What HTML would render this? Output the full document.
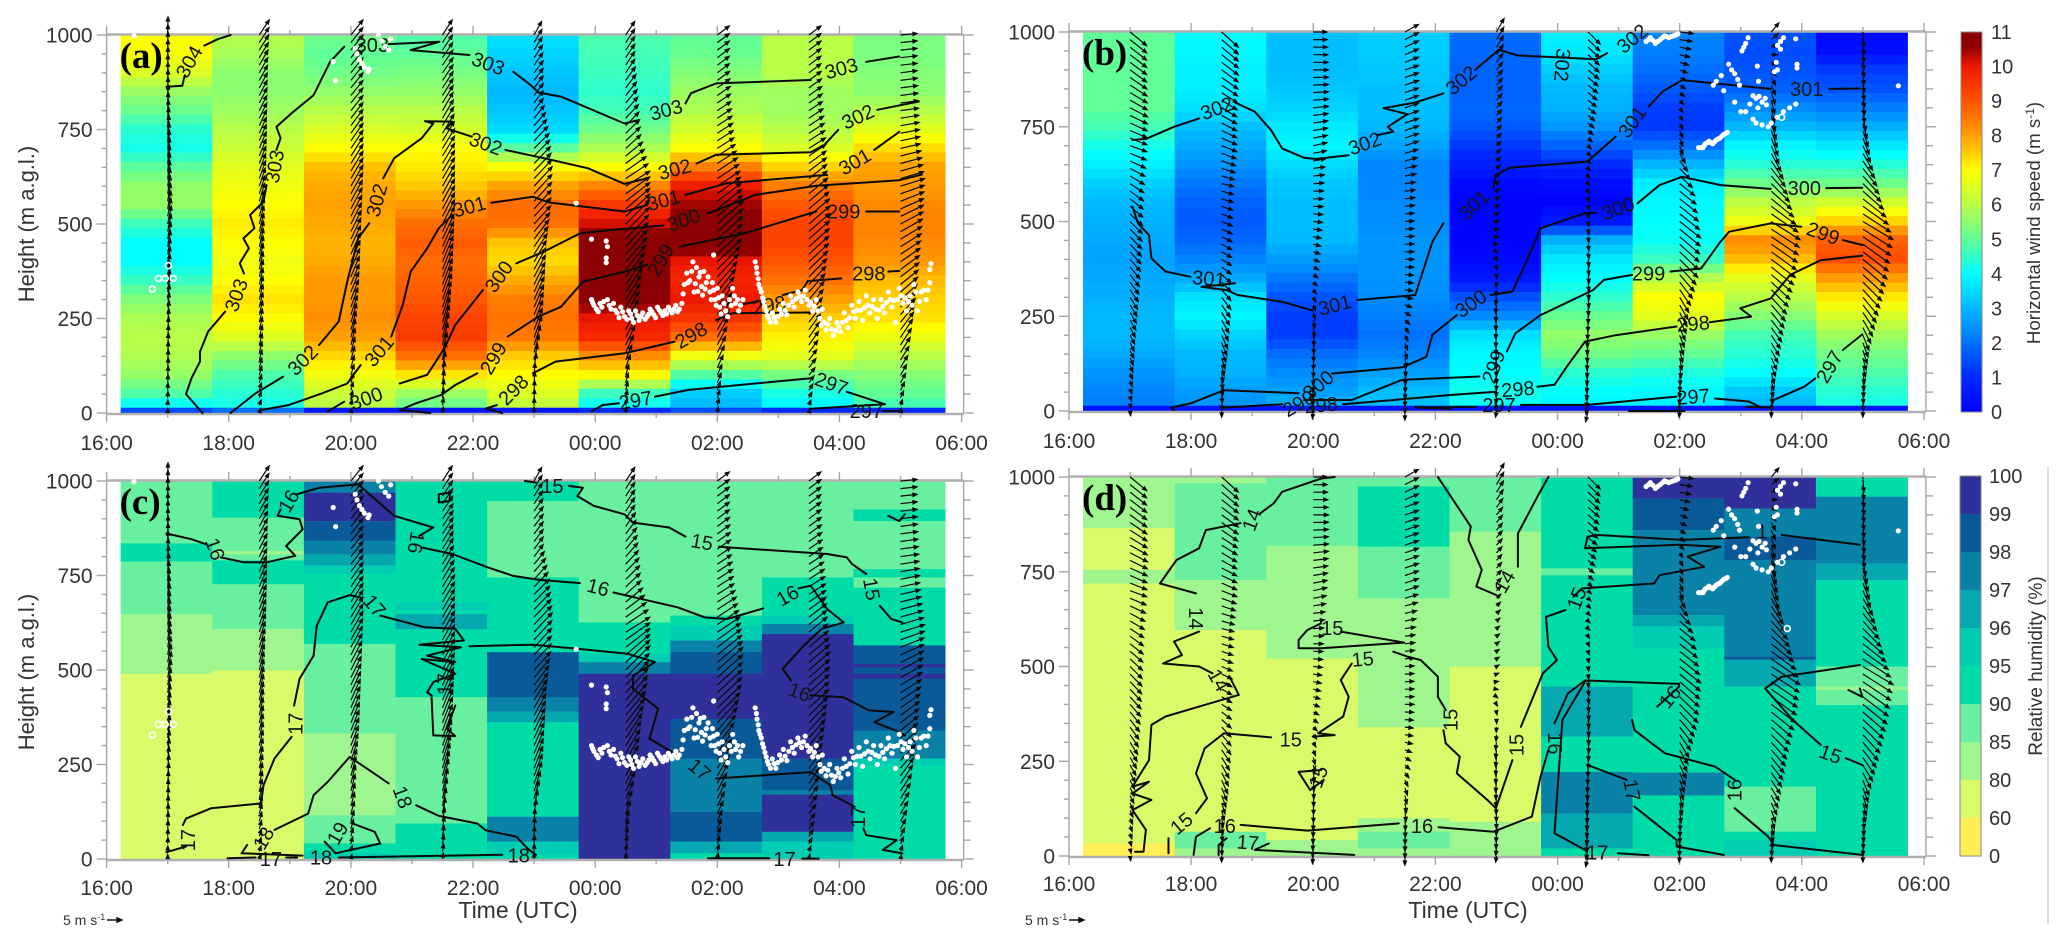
<!DOCTYPE html>
<html lang="en">
<head>
<meta charset="utf-8">
<title>Wind speed and relative humidity time-height sections</title>
<style>
html,body{margin:0;padding:0;background:#fff;width:2067px;height:947px;overflow:hidden}
svg{display:block;font-family:"Liberation Sans",sans-serif}
</style>
</head>
<body>
<svg id="figure" xmlns="http://www.w3.org/2000/svg" width="2067" height="947" viewBox="0 0 2067 947">
  <rect x="0" y="0" width="2067" height="947" fill="#fff"/>
  <g id="panel-a"></g>
  <g id="panel-b"></g>
  <g id="panel-c"></g>
  <g id="panel-d"></g>
  <g id="colorbar-speed"></g>
  <g id="colorbar-rh"></g>
  <text transform="translate(34 224) rotate(-90)" text-anchor="middle" font-size="22" fill="#333">Height (m a.g.l.)</text>
  <text transform="translate(34 672) rotate(-90)" text-anchor="middle" font-size="22" fill="#333">Height (m a.g.l.)</text>
  <text x="518" y="918" text-anchor="middle" font-size="23" fill="#333">Time (UTC)</text>
  <text x="1468" y="918" text-anchor="middle" font-size="23" fill="#333">Time (UTC)</text>
  <text x="63" y="925" font-size="14" fill="#333">5 m s<tspan dy="-5" font-size="9">-1</tspan></text>
  <text x="1025" y="925" font-size="14" fill="#333">5 m s<tspan dy="-5" font-size="9">-1</tspan></text>
  <path d="M107 920H122M122 920l-5-2.2v4.4z" stroke="#111" stroke-width="1.4" fill="#111"/>
  <path d="M1069 920H1084M1084 920l-5-2.2v4.4z" stroke="#111" stroke-width="1.4" fill="#111"/>
  <text transform="translate(2040 223) rotate(-90)" text-anchor="middle" font-size="18.7" fill="#333">Horizontal wind speed (m s<tspan dy="-6" font-size="12">-1</tspan><tspan dy="6">)</tspan></text>
  <text transform="translate(2042 666) rotate(-90)" text-anchor="middle" font-size="19" fill="#333">Relative humidity (%)</text>
  <line x1="2048" y1="467" x2="2048" y2="924" stroke="#cfcfcf" stroke-width="1.5"/>
</svg>
<script>
/* ---------- shared axis data ---------- */
const hourTicks = [0,1,2,3,4,5,6,7,8,9,10,11,12,13,14];
const hourLabels = ['16:00','18:00','20:00','22:00','00:00','02:00','04:00','06:00'];
const heightTicks = [0,250,500,750,1000];
const profileTimes = [1,2.5,4,5.5,7,8.5,10,11.5,13];
const cellStart = 0.23;
const cellWidth = 1.5;

/* ---------- wind speed (m/s) per profile, at these heights ---------- */
const speedLevels = [1000,950,900,850,800,750,700,650,600,550,500,450,400,350,300,250,200,150,100,50,15,0];
const speedA = [
[7,6.9,6.5,5.6,5.1,4.4,4.2,5,5.6,5.6,4.6,4,4,4.6,5.4,5.9,6,5.9,5.6,4.8,3.8,1.5],
[6,5.8,5.5,5.5,5.7,6,6.3,6.6,6.8,7,7.2,7,6.8,7,7.3,7,6.5,5.5,4.8,4.4,4.2,2],
[5.2,5,5.2,5.6,6,6.5,7,7.7,7.9,8,7.9,7.8,7.9,8.1,8.1,8.2,8,7.4,6.8,6.2,6,0.5],
[4.8,5,5.3,5.6,6,6.4,7,7.2,7.6,8.1,8.7,8.9,8.7,8.8,9,9.3,9.4,8.6,7.2,5.6,5,0.5],
[3.6,3.4,3.2,3,3.2,3.5,5,7,8,8.7,8.6,7.6,7.4,7.9,8.5,8.6,8.5,7.5,7,6.5,6,0.5],
[4.8,4.7,4.6,4.5,4.7,5.2,5.9,7,8.4,9.5,10.2,11,11,11,10.8,10,9.7,8.2,7,4.5,4,1],
[5,5.1,5.4,5.7,5.9,6.4,7,8.5,10,10.5,11,11,10,9.8,10,9.5,8.6,6.7,4.8,3.2,3,1.5],
[6,6,6,5.7,5.7,6,6.5,7.5,8.5,9,9.3,9.3,9,8.6,8,7.5,7.1,6.6,5.2,4.2,3.8,1],
[5.3,5.3,5.4,5.5,6,6.6,7.4,8,8.1,8.3,8.4,8.3,8.1,7.7,7.5,7.3,6.7,6,5.4,5,4.6,1]
];
const speedB = [
[5,5,5,5,5,4.7,4.2,3.8,3.3,3,2.9,2.8,2.7,2.8,2.9,3,3,2.8,2.5,2.3,2.2,0.5],
[4,3.9,3.8,3.8,3.6,3.1,2.8,2.5,2.1,1.8,1.7,1.9,2.3,2.8,3.6,3.9,3.4,3,2.9,2.6,2.5,0.5],
[3.1,3.1,3.1,3.2,3.4,3.7,3.9,3.5,3.2,3.1,3.1,3,2.6,2.1,1.6,1.3,1.3,2,2.4,2.7,2.9,0.5],
[3.3,3.3,3.2,3.1,3.1,3,2.7,2.3,2.3,2.4,2.4,2.5,2.5,2.5,2.4,2.2,2,2.3,2.7,3.1,3.1,0.5],
[1.9,1.9,1.8,1.8,1.9,1.7,1.2,0.8,0.2,0.1,0.1,0.1,0.2,0.6,1.6,2.4,3.6,3.9,4,4.2,4.1,0.5],
[3.8,3.7,3.3,3,2.9,2.5,1.8,1,0.3,0.1,0.6,3,3.7,4,4.5,5.1,5.6,5.2,4.4,4,3.9,0.5],
[2.3,2.2,2,1.7,1.3,1.2,2,3,3.8,3.9,4,4.1,4.6,6,7,6.6,5.6,5,4.3,3.9,3.8,0.5],
[1.6,1.5,1.6,1.8,2.4,3,3.9,4.4,5.2,6.1,6.8,8.3,7.7,6.6,6,5.4,4.7,4.4,4,3.2,3,0.5],
[0.2,0.4,1.3,1.6,2.2,2.9,3.7,4.4,5.2,6.4,7.5,8.9,9.1,8,7.2,6.4,5.7,5.2,4.8,4.4,4.2,0.5]
];

/* ---------- relative humidity bands per profile: [band top height, RH %] ---------- */
const humidityC = [
[[1000,87],[835,92],[787,87],[648,82],[490,70]],
[[1000,92],[903,87],[815,82],[806,87],[790,92],[727,87],[609,82],[499,70]],
[[1000,97.5],[969,99.5],[894,98.5],[842,97.5],[806,96.5],[776,95.5],[754,92],[569,87],[332,82],[116,87],[41,92],[15,95.5]],
[[1000,92],[679,95.5],[657,92],[648,96.5],[608,92],[428,87],[94,92]],
[[1000,92],[947,87],[745,92],[547,98.5],[428,97.5],[390,96.5],[362,92],[112,97.5],[46,95.5],[11,92]],
[[1000,87],[626,92],[543,95.5],[521,97.5],[490,99.5]],
[[1000,87],[644,92],[617,95.5],[578,97.5],[547,98.5],[490,99.5],[371,98.5],[266,97.5],[125,98.5],[46,96.5],[15,92]],
[[1000,87],[745,92],[644,95.5],[622,97.5],[595,99.5],[266,98.5],[182,97.5],[170,99.5],[72,96.5],[46,95.5]],
[[1000,87],[925,92],[894,87],[767,92],[745,87],[718,92],[565,98.5],[516,99.5],[507,98.5],[490,99.5],[477,98.5],[340,97.5],[266,95.5],[248,92]]
];
const humidityD = [
[[1000,82],[865,70],[755,82],[719,70],[33,50]],
[[1000,82],[983,87],[728,82],[596,70],[64,87],[20,82]],
[[1000,87],[818,82],[521,70],[42,82]],
[[1000,87],[975,92],[816,87],[680,82],[340,70],[100,82],[64,87],[20,82]],
[[1000,87],[856,82],[500,70],[90,82]],
[[1000,92],[759,87],[741,92],[447,96.5],[315,92],[222,97.5],[112,96.5],[20,92]],
[[1000,99.5],[944,98.5],[860,97.5],[636,96.5],[606,95.5],[547,92],[220,97.5],[160,92]],
[[1000,99.5],[917,97.5],[842,98.5],[781,97.5],[526,98.5],[518,96.5],[447,92],[183,87],[64,92],[42,95.5]],
[[1000,92],[948,97.5],[772,96.5],[728,92],[500,87],[447,82],[438,87],[398,92]]
];

/* ---------- wind components (m/s) per profile at 0,100,...,1000 m ---------- */
const barbLevels = [0,100,200,300,400,500,600,700,800,900,1000];
const windUEarly = [
[0,0.2,0.3,0.6,0.8,1.2,0.8,0.6,0.2,0.1,0.1],
[0.5,0.8,1,1.2,1.3,1.5,2,2.3,2.5,2.8,3.3],
[0.3,1,1.5,2.5,3,3.5,4,4,4,4,4],
[0.3,0.7,2,3,3.5,4,4,4,3.5,3.5,3.2],
[0,0.3,2.5,3.3,4,5.5,6,5,3,3,2.5],
[0.2,1,3.5,5,7,8,8,5,4,3,3],
[0.3,1.5,3.5,5.5,8,8.5,7.5,5.5,4.5,4,4],
[0.3,2,3.5,5,6.5,7,6,5.5,4.5,4,4],
[0.3,2,4,5.5,6.5,7.5,8,6.5,6,5.5,5.5]
];
const windVEarly = [
[1.5,3,4,5,5,6,6,6,6,6,6],
[1.5,3,4,5,6,6,6,5.5,5,5,5],
[1.5,3.5,6,6.5,7,7,7,6,5,5,5],
[2,4.5,8,8.5,8.5,8,7,6.5,6,5,5],
[2,4,7,7.5,7,6,6.5,5,4,4,4.5],
[2,3.5,7,8,8,8,5,4.5,4.5,4.5,4.5],
[2,3.5,6.5,7.5,7.5,7.5,5,3.5,3,3,3],
[1.5,2.5,5,6,6,6,5,3.5,3,3,3],
[1.5,3.5,6,5,4.5,4,2.5,1.5,0.8,0.7,0.5]
];
const windULate = [
[0.2,0.8,1.5,2.5,3.5,4,4.5,5.5,5.8,5.5,5.5],
[0,0.5,2,3,3.2,3.5,4,5,5,5.5,5.5],
[-0.3,0,0.3,0.8,2,3,3.5,4.5,5,5,4.5],
[0,0.2,1,2.5,3,3,3.5,4.5,4.5,4.5,4.5],
[-0.3,0,-0.3,-0.3,0.3,0.8,1,1.5,1.8,2,2.5],
[-0.8,-0.5,-0.3,0.3,0.3,0.2,0.5,1,2.5,3.5,4],
[-0.2,0.2,1.5,3,6,7,5,1,1,2.5,4.5],
[0,1,3,5,8,9.5,6,2.5,1,1.5,2.5],
[0,0.5,2,5,8,10,6,2.5,0.5,0.3,0.3]
];
const windVLate = [
[-1.5,-2,-3,-4,-4,-4,-3,-2,-3,-4,-4.5],
[-2,-3,-4.5,-4,-2,-1.5,-1,-2,-3,-4,-5],
[-2.5,-4,-3.5,-1.5,-0.8,-0.3,0.2,1,0.5,0,0],
[-3,-4,-2,-0.5,0,0.2,0.5,1.5,1.5,1.5,2.5],
[-2,-3.5,-4,-2.5,-0.5,0.5,0.8,1.5,2,2.5,4.5],
[-3.5,-4,-4,-3.5,-2.5,-1.5,-0.5,-1,-2,-3,-4],
[-2,-4,-4,-5,-6,-5.5,-4,-3,-1.5,-1,-0.5],
[-2,-3.5,-4.5,-5.5,-6,-6,-6,-6,-5,-2,3],
[-2,-3.5,-5,-6,-6.5,-6,-6,-5.5,-5,-5,-5]
];

/* ---------- contour polylines: [hours after 16:00, height m] ---------- */
const contourLinesA = [
[[0.98,863],[1.24,866],[1.28,894]],
[[1.6,972],[1.82,989],[2.03,1000]],
[[1.57,0],[1.3,50],[1.39,92],[1.53,136],[1.53,162],[1.66,215],[1.94,268]],
[[2.25,369],[2.18,396],[2.33,436],[2.24,462],[2.42,489],[2.35,524],[2.57,559],[2.62,603]],
[[2.78,696],[2.85,727],[2.78,757],[3.03,793],[3.39,841],[3.66,929],[3.89,969]],
[[4.62,976],[5.45,982],[4.98,960],[5.94,947]],
[[6.66,903],[6.94,868],[7.07,848],[7.44,837],[8.48,766],[8.71,775]],
[[9.48,819],[9.57,846],[9.98,872],[11.53,881]],
[[12.44,929],[12.98,943]],
[[2.03,0],[2.44,52],[2.89,96]],
[[3.48,180],[3.8,242],[3.94,347],[4.12,462],[4.3,502]],
[[4.53,621],[4.71,674],[5.16,727],[5.35,766],[5.21,772],[5.66,771],[5.57,753],[5.98,731]],
[[6.53,696],[7.16,674],[7.89,647],[8.48,606],[8.85,621]],
[[9.66,660],[9.98,683],[11.53,690],[11.75,709],[11.98,749]],
[[12.62,802],[13.3,824]],
[[2.53,8],[2.98,21],[3.53,52],[3.94,78],[4.16,127]],
[[4.66,202],[4.85,286],[4.98,374],[5.25,436],[5.44,489],[5.66,524]],
[[6.3,556],[6.98,572],[7.25,557],[8.48,533],[8.85,550]],
[[9.48,577],[10.16,608],[11.8,630]],
[[12.57,696],[12.98,744]],
[[3.62,4],[3.89,30]],
[[4.8,78],[5.25,101],[5.53,171],[5.71,233],[6.16,325]],
[[6.71,396],[7.16,427],[7.75,475],[8.25,484],[9.12,496]],
[[9.85,528],[10.62,577],[11.62,601],[12.98,616],[13.35,631]],
[[5.3,0],[4.8,8],[5.07,26],[5.48,48],[5.71,74],[6.07,105]],
[[6.57,202],[7.07,255],[7.44,281],[7.8,347],[8.48,374],[8.85,392]],
[[9.39,440],[10.44,475],[11.62,533]],
[[12.44,533],[12.98,533]],
[[6.48,0],[6.21,12],[6.39,21]],
[[6.98,105],[7.35,136],[8.48,158],[9.3,189]],
[[9.98,246],[10.25,264],[11.53,266]],
[[10.35,286],[10.66,295]],
[[11.07,312],[11.39,325],[11.48,349],[12.03,356]],
[[12.8,374],[12.98,376]],
[[7.94,4],[8.12,21],[8.39,26]],
[[8.98,43],[9.53,61],[11.53,92]],
[[12.12,56],[12.75,23],[11.53,11]],
[[12.71,5],[13.03,5]]
];
const contourLabelsA = [
['304',1.35,929,-60],['303',2.12,312,-70],['303',2.75,652,-80],['303',4.35,974,0],['303',6.25,925,20],
['303',9.16,802,-15],['303',12.03,912,-15],['302',3.21,140,-45],['302',4.42,563,-75],['302',6.21,713,20],
['302',9.3,645,-15],['302',12.3,784,-25],['301',4.46,164,-50],['301',5.94,546,-15],['301',9.12,563,-15],
['301',12.25,665,-30],['300',4.25,39,-20],['300',6.42,361,-55],['300',9.45,511,-20],['299',6.33,145,-60],
['299',9.07,405,-60],['299',12.07,533,0],['298',6.66,61,-45],['298',9.57,206,-30],['298',10.85,286,-10],
['298',12.48,369,0],['297',8.66,34,-10],['297',11.87,78,20],['297',12.44,5,0]
];
const contourLinesB = [
[[1.04,715],[1.26,718],[1.72,750],[2.13,772]],
[[2.72,814],[3.04,790],[3.31,741],[3.49,693],[3.85,668],[4.04,665],[4.58,675]],
[[5.05,728],[5.31,737],[5.22,750],[5.54,783],[5.15,799],[5.67,814],[6.13,838]],
[[6.65,900],[7.04,953],[7.35,938],[8.63,928],[8.81,944]],
[[1.04,539],[1.13,495],[1.31,464],[1.35,403],[1.58,368],[1.99,354]],
[[2.17,328],[2.72,337]],
[[2.17,328],[2.58,319],[2.76,306],[3.49,288],[3.99,265]],
[[4.72,293],[5.67,306],[5.81,376],[5.95,447],[6.13,495]],
[[6.95,588],[6.99,623],[7.22,642],[8.49,658],[8.95,724]],
[[9.49,803],[9.72,843],[10.04,873],[11.49,850]],
[[12.45,850],[12.95,851]],
[[1.72,3],[1.67,9],[1.99,20],[2.54,55],[3.76,47]],
[[4.31,99],[5.45,115],[5.85,143],[5.95,201],[6.35,253]],
[[6.9,306],[7.26,315],[7.49,394],[7.72,482],[8.45,522],[8.63,523]],
[[9.31,548],[9.67,596],[10.04,618],[10.67,596],[11.49,586]],
[[12.4,588],[12.99,589]],
[[2.54,9],[3.49,18]],
[[3.85,29],[4.63,29],[5.45,82],[6.72,91]],
[[7.17,157],[7.31,205],[7.72,253],[8.58,319],[8.76,346],[9.22,359]],
[[9.85,368],[10.35,376],[10.67,447],[10.81,473],[11.49,495],[11.99,486]],
[[12.67,451],[12.99,438]],
[[4.49,18],[5.31,29],[6.22,42],[6.99,51]],
[[7.67,64],[7.95,69],[8.17,121],[8.45,183],[8.95,200],[9.95,223]],
[[10.49,234],[11.17,249],[10.99,271],[11.49,297],[11.81,359],[12.31,398],[12.99,410]],
[[5.67,11],[6.26,6],[5.67,9],[6.67,11]],
[[7.4,16],[8.49,16],[9.95,38]],
[[10.58,33],[11.13,25],[11.31,11],[11.08,11],[11.49,9],[11.54,29],[12.04,64],[12.22,86]],
[[12.67,161],[12.99,202]],
[[9.17,0],[10.08,0]]
];
const contourLabelsB = [
['302',2.42,799,-20],['302',4.84,706,-20],['302',6.42,873,-40],['302',9.22,983,-40],['302',8.08,913,95],
['301',2.29,350,5],['301',4.35,280,-15],['301',6.63,544,-45],['301',9.22,763,-55],['301',12.08,850,0],
['300',4.08,69,-40],['300',6.58,284,-35],['300',8.99,535,-20],['300',12.04,588,0],['299',3.76,20,-30],
['299',6.95,117,-70],['299',9.49,363,0],['299',12.35,469,20],['298',4.13,16,-5],['298',7.35,58,-5],
['298',10.22,231,-5],['297',7.04,16,0],['297',10.22,38,-5],['297',12.45,117,-60]
];
const contourLinesC = [
[[0.98,861],[1.39,846],[1.62,833]],
[[1.87,798],[2.25,785],[2.62,785],[3.09,802],[2.94,828],[3.21,872],[3.16,899],[2.8,908],[2.85,925]],
[[3.12,965],[3.48,982],[4.12,991],[4.71,908],[5.35,877],[5.12,855]],
[[5.16,824],[5.66,807],[6.25,771],[6.66,749],[7.07,739],[7.75,730]],
[[8.3,705],[9.35,666],[9.8,639],[10.16,635],[10.75,663]],
[[11.33,716],[11.53,723],[11.8,661],[12.07,626],[11.71,609],[11.39,560],[11.07,503],[11.21,472]],
[[11.53,433],[12.07,428],[12.48,393],[12.89,389],[12.57,362],[12.98,336],[13.07,327]],
[[6.85,1000],[7.03,996]],
[[7.57,987],[7.8,982],[7.71,960],[7.98,934],[8.48,912],[8.62,890],[9.21,877],[9.48,853]],
[[10.03,826],[11.8,807],[12.12,798],[12.21,780],[12.44,754]],
[[12.66,670],[12.85,635],[13.03,626]],
[[12.8,908],[12.98,894],[13.07,912]],
[[0.98,18],[1.3,33]],
[[1.25,90],[1.3,107],[1.71,134],[2.53,147],[2.57,195],[2.75,266],[3.03,323]],
[[3.07,406],[3.16,477],[3.39,538],[3.44,617],[3.62,679],[3.98,698],[4.16,692]],
[[4.48,644],[5.21,613],[5.71,609],[5.85,578],[5.12,567],[5.8,560],[5.25,538],[5.71,521],[5.16,529],[5.71,490],[5.35,468],[5.25,441],[5.32,433],[5.35,327],[5.71,325],[5.57,345],[5.71,406]],
[[5.94,563],[6.98,567],[7.71,556],[8.53,543],[8.98,521],[8.62,485],[8.62,450],[9.03,398],[8.89,318],[9.3,279]],
[[9.98,213],[11.53,230],[11.85,195],[11.89,169],[12.25,138]],
[[12.39,81],[12.44,63],[12.94,50],[12.71,24],[13.03,15]],
[[2.75,77],[3.3,120],[3.39,169],[3.62,204],[3.98,270],[4.62,200]],
[[5.07,142],[5.44,114],[6.07,94],[6.21,76],[6.71,59],[6.89,28],[7.03,11]],
[[1.98,2],[2.44,4]],
[[2.94,4],[3.12,4]],
[[2.3,37],[2.21,15],[3.21,9]],
[[3.8,4],[6.48,11]],
[[9.85,2],[10.85,2]],
[[11.39,1],[11.66,1]],
[[3.57,46],[3.75,15],[4.48,41],[4.39,72],[4.03,94]],
[[5.44,965],[5.62,969],[5.62,947],[5.44,943],[5.44,965]]
];
const contourLabelsC = [
['16',1.78,820,70],['16',2.98,947,-60],['16',5.07,837,100],['16',8.05,719,15],['16',11.15,697,-30],['16',11.35,442,20],
['15',7.3,987,0],['15',9.75,839,10],['15',12.53,714,80],['17',1.33,50,-90],['17',3.09,358,-90],['17',4.39,670,50],
['17',5.53,463,-90],['17',9.71,237,40],['17',12.3,112,-90],['18',2.57,55,-60],['18',4.85,164,70],['17',2.69,0,0],
['18',3.51,4,0],['18',6.75,9,0],['17',11.1,0,0],['19',3.78,68,-60]
];
const contourLinesD = [
[[4.35,1000],[4.13,996],[3.49,961],[3.35,930],[3.13,904]],
[[2.81,878],[2.24,860],[2.13,812],[1.76,781],[1.49,719],[1.67,711],[2.08,693]],
[[2.13,592],[1.72,566],[1.85,530],[1.54,508],[2.13,500],[2.35,482]],
[[2.63,473],[2.78,425],[2.04,390],[1.58,368],[1.35,346],[1.31,253],[1.04,183],[1.31,196],[1.04,165],[1.35,148],[1.04,121],[1.26,69],[1.22,11],[1.08,11]],
[[6.04,1000],[6.58,869],[6.54,834],[6.76,755],[6.67,711],[6.99,689]],
[[7.35,763],[7.35,851],[7.67,948],[7.85,1000]],
[[12.95,821],[11.67,847]],
[[11.13,841],[10.04,834],[8.67,847],[8.49,843],[8.45,812],[9.99,821],[10.67,816],[10.13,790],[10.4,763],[9.67,741],[9.58,719],[8.4,706],[8.26,684]],
[[8.13,649],[7.81,631],[7.85,552],[7.99,517],[7.76,482],[7.4,341]],
[[7.26,253],[6.99,126],[6.85,148],[6.35,218],[6.4,262],[6.17,297],[6.13,332]],
[[6.17,385],[6.04,420],[6.04,473],[5.76,517],[5.54,526],[5.31,539]],
[[4.63,508],[4.45,464],[4.58,420],[4.49,368],[4.08,324],[4.35,319],[3.99,315]],
[[3.31,313],[2.54,324],[2.22,284],[2.08,218],[2.26,152],[2.08,113]],
[[1.63,47],[1.63,7]],
[[4.45,592],[5.49,563],[4.13,548],[3.76,548],[3.76,570],[3.9,596],[4.13,614]],
[[4.13,227],[3.76,222],[3.95,174],[4.17,201]],
[[2.04,3],[2.08,51],[2.31,73]],
[[2.81,82],[3.9,67],[5.4,86]],
[[6.05,76],[6.95,64],[7.58,104],[7.72,209],[7.85,280]],
[[7.95,350],[8.17,429],[8.45,463],[9.99,454],[9.99,447],[9.63,394]],
[[9.22,359],[9.26,332],[9.76,271],[10.58,236],[10.9,201]],
[[10.9,126],[11.45,51],[11.54,29],[12.99,3]],
[[12.95,504],[11.67,473],[11.4,442],[11.85,359],[12.31,293]],
[[12.72,258],[12.99,240]],
[[3.27,33],[3.04,16],[4.67,3]],
[[2.45,3],[2.45,29],[2.58,47]],
[[8.45,460],[8.08,359],[7.95,60],[8.45,16]],
[[8.99,7],[9.49,2]],
[[8.49,240],[9.13,201]],
[[9.26,130],[9.95,42],[9.95,25],[10.72,3]],
[[12.76,438],[12.99,420],[12.95,442]]
];
const contourLabelsD = [
['14',2.99,887,-70],['14',2.08,627,90],['14',2.45,464,60],['14',7.13,724,-60],['15',8.31,680,-70],['15',7.33,293,-90],
['15',6.25,359,-90],['15',4.81,520,-5],['15',3.63,308,0],['15',1.84,86,-40],['15',4.31,601,0],['15',4.08,209,-70],
['15',12.47,269,20],['16',2.55,79,0],['16',5.78,79,0],['16',7.96,297,90],['16',9.84,420,-50],['16',10.9,174,-90],
['17',2.93,36,5],['17',8.65,9,0],['17',9.22,174,80],['1',11.35,856,0]
];

/* ---------- ceilometer points ---------- */
const dotsEarly = [
[7.94,300],[7.98,285],[8.02,275],[8.08,290],[8.14,295],[8.2,300],[8.26,275],[8.3,290],[8.36,265],[8.42,280],[8.48,255],[8.55,270],[8.6,250],[8.66,270],[8.72,245],[8.78,265],[8.85,255],[8.9,275],[8.96,260],[9.02,280],[9.08,265],[9.14,270],[9.2,280],[9.26,265],[9.32,285],[9.38,275],
[9.42,290],[9.46,340],[9.5,370],[9.55,350],[9.6,400],[9.62,320],[9.66,385],[9.7,360],[9.74,335],[9.78,375],[9.82,345],[9.88,320],[9.92,345],[9.96,300],[10,330],[10.04,280],[10.08,310],[10.14,270],[10.2,300],[10.25,330],[10.3,290],[10.35,270],[10.42,300],
[10.62,400],[10.65,370],[10.68,340],[10.72,320],[10.76,295],[10.8,270],[10.84,250],[10.9,265],[10.96,240],[11.02,275],[11.08,290],[11.14,260],[11.2,310],[11.26,280],[11.32,320],[11.38,295],[11.44,325],[11.5,285],[11.56,270],[11.62,300],[11.68,250],[11.72,275],[11.78,220],[11.84,250],[11.9,205],[11.96,240],[12.02,215],[12.08,265],[12.14,225],[12.2,285],[12.26,250],[12.32,295],[12.38,245],[12.44,310],[12.5,265],[12.56,300],[12.62,250],[12.68,300],[12.74,265],[12.8,320],[12.86,280],[12.92,240],[12.98,330],[13.04,290],[13.1,270],[13.16,310],[13.22,340],[13.28,270],[13.34,320],[13.42,300],[13.48,345],[13.5,395],[13.48,380],
[7.96,292],[8.05,268],[8.11,280],[8.23,285],[8.33,272],[8.39,252],[8.45,268],[8.52,248],[8.58,262],[8.63,240],[8.69,258],[8.75,255],[8.82,248],[8.88,262],[8.93,268],[8.99,252],[9.05,272],[9.11,258],[9.17,262],[9.23,272],[9.29,275],[9.35,268],
[9.44,315],[9.52,345],[9.58,375],[9.64,342],[9.68,322],[9.72,372],[9.76,312],[9.8,328],[9.85,360],[9.9,300],[9.94,325],[9.98,285],[10.02,305],[10.06,262],[10.11,290],[10.17,255],[10.23,285],[10.28,310],[10.33,300],[10.38,285],
[10.64,385],[10.67,355],[10.7,330],[10.74,305],[10.78,282],[10.82,258],[10.87,240],[10.93,252],[10.99,255],[11.05,262],[11.11,272],[11.17,285],[11.23,295],[11.29,302],[11.35,308],[11.41,310],[11.47,300],[11.53,292],[11.59,282],[11.65,270],[11.7,232],[11.75,240],[11.81,235],[11.87,222],[11.93,218],[11.99,228],[12.05,240],[12.11,245],[12.17,252],[12.23,268],[12.29,272],[12.35,272],[12.41,278],[12.47,285],[12.53,282],[12.59,275],[12.65,272],[12.71,282],[12.77,292],[12.83,300],[12.89,298],[12.95,300],[13.01,310],[13.07,305],[13.13,295],[13.19,285],[13.25,320],[13.31,295],[13.38,325],[13.45,325],
[7.94,460],[8.18,455],[8.2,440],[8.18,410],[8.18,398],[7.69,555],[9.94,418],[0.45,998],[3.75,879],[3.71,930],
[4.07,965],[4.1,950],[4.14,935],[4.18,925],[4.22,915],[4.28,903],[4.3,910],[4.45,1000],[4.5,985],[4.56,970],[4.62,960],[4.65,990]
];
const ringsEarly = [[0.75,328],[0.85,356],[0.96,356],[1.09,356],[1.01,390]];
const dotsLate = [
[9.45,975],[9.49,980],[9.52,985],[9.56,978],[9.6,970],[9.64,975],[9.68,980],[9.72,985],[9.75,990],[9.78,988],[9.82,985],[9.86,988],[9.9,990],[9.94,992],[9.97,995],
[10.31,695],[10.35,695],[10.38,695],[10.4,700],[10.42,705],[10.45,708],[10.48,712],[10.51,708],[10.54,705],[10.57,710],[10.6,715],[10.63,718],[10.66,720],[10.69,725],[10.72,730],[10.75,732],[10.78,735],
[10.55,860],[10.6,870],[10.68,885],[10.8,915],[10.85,900],[10.9,890],[10.95,875],[10.98,860],[10.72,845],
[10.9,815],[11.2,832],[11.25,825],[11.3,830],[11.35,815],[11.4,825],[11,790],[11.08,790],[11.15,810],[11.28,800],[11.42,808],[11.2,770],[11.25,760],[11.35,755],[11.45,750],[11.5,760],[11.6,775],[11.7,790],[11.8,800],[11.9,810],
[11.05,960],[11.08,970],[11.12,985],[11.02,950],[11.6,965],[11.65,975],[11.7,985],[11.65,955],[11.9,982],[11.92,915],[11.92,905],[11.27,910],[11.58,920],[11.6,900],[11.55,895],[11.29,870],[13.58,858]
];
const ringsLate = [[11.67,775]];
const ringsPanelD = [[11.76,600]];

/* ---------- colour scales ---------- */
const speedTickLabels = [0,1,2,3,4,5,6,7,8,9,10,11];
const speedStops = ['#0000ff','#0028ff','#0070ff','#00b8ff','#00ffff','#60ff98','#b8ff48','#ffff00','#ffa000','#ff5500','#f01800','#8b0000'];
const rhBounds = [0,60,80,85,90,95,96,97,98,99,100];
const rhColors = ['#ffee55','#d9fb6a','#a0f68e','#68f0a0','#00dca8','#00cdb2','#06a8b0','#0a82a8','#0a5a9a','#30309a'];

/* ---------- drawing ---------- */
const NS = 'http://www.w3.org/2000/svg';
const PX_PER_HOUR = 61.07;
const ARROW_SCALE = 3;
const AXIS_GRAY = '#a6a6a6';

function make(tag, parent) {
  const node = document.createElementNS(NS, tag);
  parent.appendChild(node);
  return node;
}
function hexToRgb(c) {
  return [parseInt(c.slice(1,3),16), parseInt(c.slice(3,5),16), parseInt(c.slice(5,7),16)];
}
function speedColor(v) {
  const s = Math.max(0, Math.min(11, v));
  const i = Math.min(10, Math.floor(s));
  const f = i === 10 ? Math.min(1, (s - 10) / 0.6) : s - i;
  const a = hexToRgb(speedStops[i]);
  const b = hexToRgb(speedStops[i + 1]);
  return 'rgb(' + a.map((x, k) => Math.round(x + (b[k] - x) * f)).join(',') + ')';
}
function rhColor(v) {
  for (let i = 0; i < rhColors.length; i++) {
    if (v >= rhBounds[i] && v < rhBounds[i + 1]) return rhColors[i];
  }
  return rhColors[rhColors.length - 1];
}
function valueAtHeight(values, heights, h) {
  for (let i = 0; i < heights.length - 1; i++) {
    const hi = heights[i], lo = heights[i + 1];
    if (h <= Math.max(hi, lo) && h >= Math.min(hi, lo)) {
      return values[i] + (values[i + 1] - values[i]) * (h - hi) / (lo - hi);
    }
  }
  return values[values.length - 1];
}
function drawSpeedField(g, p, field) {
  field.forEach((col, c) => {
    const x0 = p.x(cellStart + c * cellWidth);
    const x1 = p.x(cellStart + (c + 1) * cellWidth);
    const tops = [15];
    for (let h = 40; h < 1000; h += 25) tops.push(h);
    tops.push(1000);
    tops.forEach((top, i) => {
      const bottom = i === 0 ? 0 : tops[i - 1];
      const v = i === 0 ? col[col.length - 1] : valueAtHeight(col, speedLevels, (top + bottom) / 2);
      const r = make('rect', g);
      
      
      r.setAttribute('x', x0.toFixed(1));
      r.setAttribute('width', (x1 - x0 + 0.4).toFixed(1));
      r.setAttribute('y', p.y(top).toFixed(1));
      r.setAttribute('height', (p.y(bottom) - p.y(top) + 0.4).toFixed(1));
      r.setAttribute('fill', speedColor(v));
    });
  });
}
function drawHumidityField(g, p, field) {
  field.forEach((col, c) => {
    const x0 = p.x(cellStart + c * cellWidth);
    const x1 = p.x(cellStart + (c + 1) * cellWidth);
    col.forEach((band, i) => {
      const top = band[0];
      const bottom = i + 1 < col.length ? col[i + 1][0] : 0;
      const r = make('rect', g);
      
      
      r.setAttribute('x', x0.toFixed(1));
      r.setAttribute('width', (x1 - x0 + 0.4).toFixed(1));
      r.setAttribute('y', p.y(top).toFixed(1));
      r.setAttribute('height', (p.y(bottom) - p.y(top) + 0.3).toFixed(1));
      r.setAttribute('fill', rhColor(band[1]));
    });
  });
}
function drawContours(g, p, lines, labels) {
  lines.forEach(line => {
    const path = make('polyline', g);
    
    
    path.setAttribute('points', line.map(pt => p.x(pt[0]).toFixed(1) + ',' + p.y(pt[1]).toFixed(1)).join(' '));
    path.setAttribute('fill', 'none');
    path.setAttribute('stroke', '#0a0a0a');
    path.setAttribute('stroke-width', '2');
    path.setAttribute('stroke-linejoin', 'round');
    path.setAttribute('stroke-linecap', 'round');
  });
  labels.forEach(item => {
    const t = make('text', g);
    
    
    const lx = p.x(item[1]), ly = p.y(item[2]);
    t.setAttribute('transform', 'translate(' + lx.toFixed(1) + ' ' + ly.toFixed(1) + ') rotate(' + item[3] + ')');
    t.setAttribute('text-anchor', 'middle');
    t.setAttribute('y', '7');
    t.setAttribute('font-size', '20');
    t.setAttribute('fill', '#151515');
    t.textContent = item[0];
  });
}
function drawBarbs(g, p, uField, vField) {
  profileTimes.forEach((time, c) => {
    const tail = p.x(time);
    for (let h = 0; h <= 1000; h += 20) {
      const u = valueAtHeight(uField[c], barbLevels, h);
      const v = valueAtHeight(vField[c], barbLevels, h);
      const dx = u * ARROW_SCALE, dy = -v * ARROW_SCALE;
      const len = Math.hypot(dx, dy) || 1;
      const ux = dx / len, uy = dy / len;
      const y0 = p.y(h);
      const tipX = tail + dx, tipY = y0 + dy;
      const baseX = tipX - ux * 4, baseY = tipY - uy * 4;
      const a = make('path', g);
      
      
      a.setAttribute('d',
        'M' + tail.toFixed(1) + ' ' + y0.toFixed(1) + 'L' + tipX.toFixed(1) + ' ' + tipY.toFixed(1) +
        'M' + tipX.toFixed(1) + ' ' + tipY.toFixed(1) +
        'L' + (baseX - uy * 1.6).toFixed(1) + ' ' + (baseY + ux * 1.6).toFixed(1) +
        'L' + (baseX + uy * 1.6).toFixed(1) + ' ' + (baseY - ux * 1.6).toFixed(1) + 'Z');
      a.setAttribute('stroke', '#0a0a0a');
      a.setAttribute('stroke-width', '1.2');
      a.setAttribute('fill', '#0a0a0a');
    }
  });
}
function drawDots(g, p, dots, rings) {
  dots.forEach(pt => {
    const d = make('circle', g);
    
    
    d.setAttribute('cx', p.x(pt[0]).toFixed(1));
    d.setAttribute('cy', p.y(pt[1]).toFixed(1));
    d.setAttribute('r', '2.6');
    d.setAttribute('fill', '#fff');
  });
  rings.forEach(pt => {
    const d = make('circle', g);
    
    
    d.setAttribute('cx', p.x(pt[0]).toFixed(1));
    d.setAttribute('cy', p.y(pt[1]).toFixed(1));
    d.setAttribute('r', '3');
    d.setAttribute('fill', 'none');
    d.setAttribute('stroke', '#fff');
    d.setAttribute('stroke-width', '1.6');
  });
}
function tickLine(g, x1, y1, x2, y2, name) {
  const l = make('line', g);
  
  
  l.setAttribute('x1', x1.toFixed(1));
  l.setAttribute('y1', y1.toFixed(1));
  l.setAttribute('x2', x2.toFixed(1));
  l.setAttribute('y2', y2.toFixed(1));
  l.setAttribute('stroke', AXIS_GRAY);
  l.setAttribute('stroke-width', '1.4');
}
function drawAxes(g, p) {
  const left = p.x(0), right = p.x(14), top = p.y(1000), bottom = p.y(0);
  tickLine(g, left, top, left, bottom, 'left-axis-line');
  tickLine(g, right + 2, top, right + 2, bottom, 'right-axis-line');
  [[top - 0.5, 'top-axis-band'], [bottom + 1, 'bottom-axis-band']].forEach(item => {
    const heavy = make('line', g);
    
    
    heavy.setAttribute('x1', left.toFixed(1));
    heavy.setAttribute('x2', (right + 2).toFixed(1));
    heavy.setAttribute('y1', item[0].toFixed(1));
    heavy.setAttribute('y2', item[0].toFixed(1));
    heavy.setAttribute('stroke', '#b0b0b0');
    heavy.setAttribute('stroke-width', '2.4');
  });
  hourTicks.forEach(h => {
    const len = h % 2 === 0 ? 9 : 5;
    tickLine(g, p.x(h), top, p.x(h), top - len, 'top-x-tick');
    tickLine(g, p.x(h), bottom, p.x(h), bottom + len, 'bottom-x-tick');
  });
  for (let h = 0; h <= 1000; h += 50) {
    const major = h % 250 === 0;
    tickLine(g, left, p.y(h), left - (major ? 10 : 5), p.y(h), 'left-y-tick');
    tickLine(g, right + 2, p.y(h), right + (major ? 12 : 9), p.y(h), 'right-y-tick');
  }
  hourLabels.forEach((label, i) => {
    const t = make('text', g);
    
    
    t.setAttribute('x', p.x(i * 2).toFixed(1));
    t.setAttribute('y', p.labelY);
    t.setAttribute('text-anchor', 'middle');
    t.setAttribute('font-size', '21');
    t.setAttribute('fill', '#333');
    t.textContent = label;
  });
  heightTicks.forEach(h => {
    const t = make('text', g);
    
    
    t.setAttribute('x', (left - 14).toFixed(1));
    t.setAttribute('y', (p.y(h) + 7.5).toFixed(1));
    t.setAttribute('text-anchor', 'end');
    t.setAttribute('font-size', '21');
    t.setAttribute('fill', '#333');
    t.textContent = h;
  });
}
function panelScale(x0, yTop, yBottom, labelY) {
  return {
    x: t => x0 + t * PX_PER_HOUR,
    y: h => yBottom - (yBottom - yTop) * h / 1000,
    labelY: labelY
  };
}
function drawPanel(id, p, letter, fieldFn, lines, labels, u, v, dots, rings) {
  const g = document.getElementById(id);
  fieldFn(g, p);
  drawAxes(g, p);
  drawContours(g, p, lines, labels);
  drawBarbs(g, p, u, v);
  drawDots(g, p, dots, rings);
  const t = make('text', g);
  
  
  t.setAttribute('x', (p.x(0) + 13).toFixed(1));
  t.setAttribute('y', (p.y(1000) + 33).toFixed(1));
  t.setAttribute('font-family', '"Liberation Serif",serif');
  t.setAttribute('font-weight', 'bold');
  t.setAttribute('font-size', '37');
  t.setAttribute('fill', '#000');
  t.textContent = letter;
}

drawPanel('panel-a', panelScale(106.6, 35, 413, 450), '(a)', (g, p) => drawSpeedField(g, p, speedA),
  contourLinesA, contourLabelsA, windUEarly, windVEarly, dotsEarly, ringsEarly);
drawPanel('panel-b', panelScale(1069, 32, 411, 448), '(b)', (g, p) => drawSpeedField(g, p, speedB),
  contourLinesB, contourLabelsB, windULate, windVLate, dotsLate, ringsLate);
drawPanel('panel-c', panelScale(106.6, 481, 859, 895), '(c)', (g, p) => drawHumidityField(g, p, humidityC),
  contourLinesC, contourLabelsC, windUEarly, windVEarly, dotsEarly, ringsEarly);
drawPanel('panel-d', panelScale(1069, 477, 856, 891), '(d)', (g, p) => drawHumidityField(g, p, humidityD),
  contourLinesD, contourLabelsD, windULate, windVLate, dotsLate, ringsLate.concat(ringsPanelD));

/* colour bars */
(function () {
  const g = document.getElementById('colorbar-speed');
  const x = 1961, w = 21, top = 32, bottom = 412;
  const y = v => bottom - (bottom - top) * v / 11;
  for (let i = 0; i < 110; i++) {
    const v = i / 10;
    const r = make('rect', g);
    
    
    r.setAttribute('x', x);
    r.setAttribute('width', w);
    r.setAttribute('y', y(v + 0.1).toFixed(1));
    r.setAttribute('height', (y(v) - y(v + 0.1) + (i < 109 ? 0.4 : 0)).toFixed(1));
    r.setAttribute('fill', speedColor(v + 0.05));
  }
  const frame = make('rect', g);
  
  
  frame.setAttribute('x', x);
  frame.setAttribute('y', top);
  frame.setAttribute('width', w);
  frame.setAttribute('height', bottom - top);
  frame.setAttribute('fill', 'none');
  frame.setAttribute('stroke', '#8a8a8a');
  frame.setAttribute('stroke-width', '1');
  speedTickLabels.forEach(v => {
    const t = make('text', g);
    
    
    t.setAttribute('x', '1991');
    t.setAttribute('y', (y(v) + 7).toFixed(1));
    t.setAttribute('font-size', '20');
    t.setAttribute('fill', '#333');
    t.textContent = v;
  });
})();
(function () {
  const g = document.getElementById('colorbar-rh');
  const x = 1960, w = 21, top = 476, bottom = 856;
  const step = (bottom - top) / rhColors.length;
  rhColors.forEach((c, i) => {
    const r = make('rect', g);
    
    
    r.setAttribute('x', x);
    r.setAttribute('width', w);
    r.setAttribute('y', (bottom - (i + 1) * step).toFixed(1));
    r.setAttribute('height', step.toFixed(1));
    r.setAttribute('fill', c);
  });
  const frame = make('rect', g);
  
  
  frame.setAttribute('x', x);
  frame.setAttribute('y', top);
  frame.setAttribute('width', w);
  frame.setAttribute('height', bottom - top);
  frame.setAttribute('fill', 'none');
  frame.setAttribute('stroke', '#8a8a8a');
  frame.setAttribute('stroke-width', '1');
  rhBounds.forEach((v, i) => {
    const t = make('text', g);
    
    
    t.setAttribute('x', '1989');
    t.setAttribute('y', (bottom - i * step + 7).toFixed(1));
    t.setAttribute('font-size', '20');
    t.setAttribute('fill', '#333');
    t.textContent = v;
  });
})();
</script>
</body>
</html>
